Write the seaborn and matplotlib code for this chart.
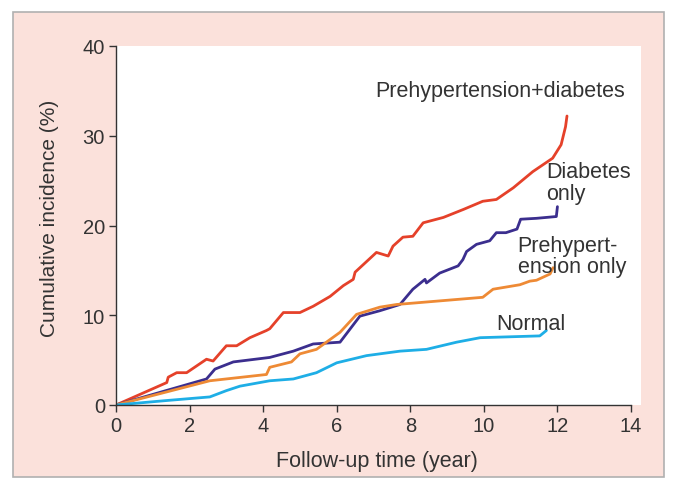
import matplotlib
matplotlib.use("Agg")
import matplotlib.pyplot as plt
import seaborn as sns
import pandas as pd
from matplotlib.patches import Rectangle

# ---- data ----
pd_x = [0, 1.38, 1.42, 1.65, 1.92, 2.28, 2.46, 2.64, 3.0, 3.28, 3.64, 4.09, 4.18, 4.55, 5.0, 5.36, 5.82, 6.18,
        6.45, 6.5, 7.08, 7.4, 7.53, 7.8, 8.07, 8.35, 8.9, 9.45, 9.97, 10.34, 10.8, 11.33, 11.87, 12.1, 12.22, 12.26]
pd_y = [0, 2.5, 3.1, 3.6, 3.6, 4.6, 5.1, 4.9, 6.6, 6.6, 7.5, 8.3, 8.5, 10.3, 10.3, 11.0, 12.1, 13.3,
        14.0, 14.8, 17.0, 16.6, 17.7, 18.7, 18.8, 20.3, 20.9, 21.8, 22.7, 22.9, 24.2, 26.0, 27.5, 29.0, 31.0, 32.2]

d_x = [0, 2.46, 2.69, 3.19, 4.18, 4.82, 5.36, 6.09, 6.63, 7.17, 7.72, 8.07, 8.4, 8.44, 8.8, 9.3, 9.43,
       9.53, 9.8, 10.16, 10.34, 10.6, 10.9, 11.0, 11.43, 11.97, 12.0]
d_y = [0, 2.9, 4.0, 4.8, 5.3, 6.0, 6.8, 7.0, 9.9, 10.5, 11.2, 12.9, 14.0, 13.6, 14.7, 15.5, 16.2,
       17.1, 17.9, 18.3, 19.2, 19.2, 19.6, 20.7, 20.8, 21.0, 22.1]

p_x = [0, 2.55, 4.09, 4.18, 4.77, 5.0, 5.45, 6.09, 6.54, 7.17, 7.63, 9.97, 10.25, 10.98, 11.25, 11.43, 11.8, 11.88]
p_y = [0, 2.7, 3.4, 4.2, 4.8, 5.7, 6.2, 8.1, 10.1, 10.9, 11.2, 12.0, 12.9, 13.4, 13.8, 13.9, 14.6, 15.3]

n_x = [0, 1.38, 2.55, 3.0, 3.37, 4.18, 4.82, 5.45, 6.0, 6.81, 7.72, 8.44, 9.26, 9.9, 11.52, 11.7]
n_y = [0, 0.5, 0.9, 1.6, 2.1, 2.7, 2.9, 3.6, 4.7, 5.5, 6.0, 6.2, 7.0, 7.5, 7.7, 8.3]

series_names = ["Prehypertension+diabetes", "Diabetes only", "Prehypertension only", "Normal"]
x_ticks = [0, 2, 4, 6, 8, 10, 12, 14]
y_ticks = [0, 10, 20, 30, 40]

colors = {"Prehypertension+diabetes": "#e5412a", "Diabetes only": "#3b2e8e",
          "Prehypertension only": "#ee8a35", "Normal": "#1eaee6"}

frames = []
for name, xs, ys in zip(series_names, [pd_x, d_x, p_x, n_x], [pd_y, d_y, p_y, n_y]):
    frames.append(pd.DataFrame({"time": xs, "inc": ys, "group": name}))
df = pd.concat(frames, ignore_index=True)

sns.set_style("ticks")
plt.rcParams["font.family"] = ["Liberation Sans", "DejaVu Sans"]

fig = plt.figure(figsize=(6.77, 4.85), dpi=100)
fig.patch.set_facecolor("white")
# pink panel
fig.patches.append(Rectangle((13/677, 1-478/485), 651/677, 465/485, transform=fig.transFigure,
                             facecolor="#fbe1db", edgecolor="#b0b0b0", linewidth=1.2, zorder=-2))
# white plotting area
fig.patches.append(Rectangle((116/677, 1-406/485), (641-116)/677, (406-47)/485, transform=fig.transFigure,
                             facecolor="white", edgecolor="none", zorder=-1))

ax = fig.add_axes([116/677, 1-406/485, (631-116)/677, (406-47)/485])
ax.set_facecolor("none")

sns.lineplot(data=df, x="time", y="inc", hue="group", palette=colors, hue_order=series_names,
             sort=False, estimator=None, linewidth=2.0, legend=False, ax=ax)

ax.set_xlim(0, 14)
ax.set_ylim(0, 40)
ax.set_xticks(x_ticks)
ax.set_yticks(y_ticks)
tc = "#333333"
ax.tick_params(axis="both", direction="out", length=5, width=1, colors=tc, labelsize=14.5, pad=3)
for s in ["top", "right"]:
    ax.spines[s].set_visible(False)
for s in ["left", "bottom"]:
    ax.spines[s].set_color(tc)
    ax.spines[s].set_linewidth(1)
ax.set_xlabel("Follow-up time (year)", fontsize=15.5, color=tc)
ax.set_ylabel("Cumulative incidence (%)", fontsize=15, color=tc)
ax.xaxis.set_label_coords(0.506, -0.125)
ax.yaxis.set_label_coords(-0.111, 0.522)

fs = 15.5
ax.text(7.05, 35.0, "Prehypertension+diabetes", fontsize=fs, color=tc, ha="left", va="center")
ax.text(11.7, 24.8, "Diabetes\nonly", fontsize=fs, color=tc, ha="left", va="center", linespacing=1.05)
ax.text(10.92, 16.6, "Prehypert-\nension only", fontsize=fs, color=tc, ha="left", va="center", linespacing=1.05)
ax.text(10.35, 9.1, "Normal", fontsize=fs, color=tc, ha="left", va="center")

fig.savefig("out.png", dpi=100, facecolor=fig.get_facecolor())
